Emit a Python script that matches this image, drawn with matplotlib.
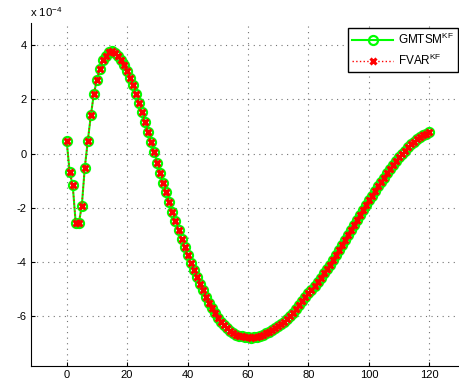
import numpy as np
import matplotlib
matplotlib.use('Agg')
import matplotlib.pyplot as plt
from matplotlib.ticker import FuncFormatter

plt.rcParams['font.family'] = ['Liberation Sans', 'DejaVu Sans']
plt.rcParams['mathtext.default'] = 'regular'
plt.rcParams['axes.unicode_minus'] = False

#%% DATA (valeurs lues en unites de 1e-4)

t = np.arange(0, 121)

gmtsm_kf = [0.46, -0.69, -1.16, -2.57, -2.57, -1.93, -0.51, 0.48, 1.41, 2.21,
            2.72, 3.14, 3.44, 3.62, 3.74, 3.78, 3.72, 3.60, 3.45, 3.28,
            3.06, 2.80, 2.52, 2.21, 1.88, 1.53, 1.16, 0.79, 0.42, 0.05,
            -0.33, -0.71, -1.08, -1.43, -1.79, -2.14, -2.48, -2.82, -3.15, -3.46,
            -3.75, -4.04, -4.30, -4.55, -4.80, -5.04, -5.27, -5.50, -5.70, -5.88,
            -6.05, -6.20, -6.33, -6.44, -6.54, -6.61, -6.67, -6.71, -6.74, -6.76,
            -6.77, -6.78, -6.77, -6.75, -6.72, -6.68, -6.63, -6.57, -6.51, -6.44,
            -6.36, -6.28, -6.19, -6.09, -5.98, -5.86, -5.73, -5.59, -5.45, -5.30,
            -5.15, -5.01, -4.87, -4.72, -4.57, -4.41, -4.25, -4.09, -3.92, -3.74,
            -3.56, -3.38, -3.19, -3.00, -2.82, -2.63, -2.45, -2.26, -2.08, -1.90,
            -1.72, -1.55, -1.38, -1.21, -1.04, -0.88, -0.72, -0.57, -0.42, -0.28,
            -0.14, -0.01, 0.11, 0.23, 0.34, 0.44, 0.53, 0.61, 0.68, 0.74,
            0.79]

# les deux filtres se superposent sur la figure
fvar_kf = list(gmtsm_kf)

xticks = [0, 20, 40, 60, 80, 100, 120]
yticks = [-6, -4, -2, 0, 2, 4]
labels = ['GMTSM$^{KF}$', 'FVAR$^{KF}$']

#%% PLOT

fig = plt.figure(figsize=(4.59, 3.9), dpi=100)
ax = fig.add_axes([31/459, 24/390, 428/459, 343.3/390])

ax.plot(t, np.array(gmtsm_kf)*1e-4, '-o', color='#00ff00', lw=1.5, ms=6.5,
        mfc='none', mew=1.6, label=labels[0])
ax.plot(t, np.array(fvar_kf)*1e-4, ':x', color='#ff0000', lw=1.0, ms=5,
        mew=2.2, label=labels[1])

ax.set_xlim(-11.8, 129.8)
ax.set_ylim(-7.83e-4, 4.83e-4)
ax.set_xticks(xticks)
ax.set_yticks([v*1e-4 for v in yticks])
ax.yaxis.set_major_formatter(FuncFormatter(lambda v, p: '%g' % round(v*1e4, 6)))

ax.spines['top'].set_visible(False)
ax.spines['right'].set_visible(False)
ax.grid(True, color='0.45', linestyle=(0, (1, 4)), linewidth=0.8)
ax.set_axisbelow(True)
ax.tick_params(direction='in', length=3, width=0.8, labelsize=8, pad=3)

fig.text(30/459, 1 - 17/390, r'x 10$^{-4}$', fontsize=8.2, va='baseline')

leg = ax.legend(loc='upper right', bbox_to_anchor=(0.9977, 0.9846), fontsize=8.5,
                fancybox=False, edgecolor='k', framealpha=1, handlelength=3.5,
                handletextpad=0.4, borderpad=0.35, labelspacing=0.45,
                borderaxespad=0)
leg.get_frame().set_linewidth(1.0)

fig.savefig('out.png', dpi=100)
